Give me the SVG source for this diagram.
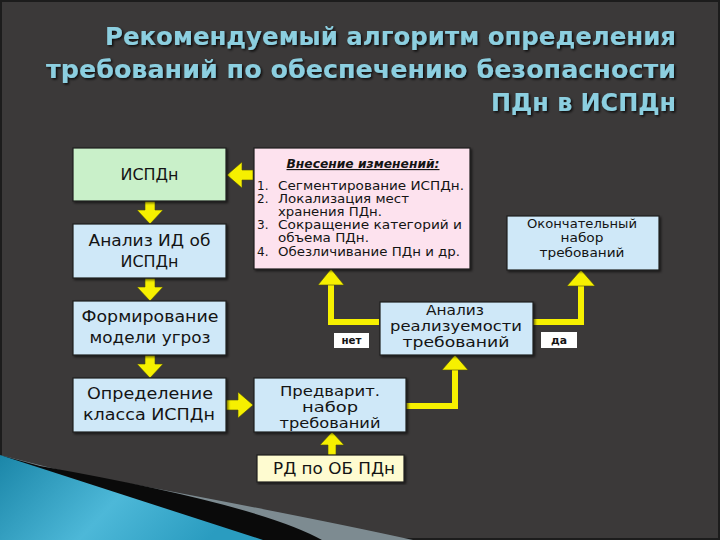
<svg xmlns="http://www.w3.org/2000/svg" width="720" height="540" viewBox="0 0 720 540">
<defs>
<style>
.t{font-family:"DejaVu Sans","Noto Sans",sans-serif;fill:#141414;}
.box{stroke:#1e1e1e;stroke-width:1.2;}
.blue{fill:#cfe8f8;}
.green{fill:#c9f0c9;}
.pink{fill:#fde2ee;}
.yel{fill:#fefbd0;}
.arr{fill:#f6f000;stroke:#4a4a10;stroke-width:0.6;}
.ln{fill:none;stroke:#f6f000;stroke-width:6;}
.title{font-family:"DejaVu Sans","Noto Sans",sans-serif;font-weight:bold;font-size:25px;fill:#8ccfe0;}
.lab{fill:#ffffff;}
</style>
<filter id="sh" x="-5%" y="-20%" width="110%" height="140%">
<feDropShadow dx="1.5" dy="1.5" stdDeviation="0.8" flood-color="#000" flood-opacity="0.8"/>
</filter>
<filter id="bsh" x="-5%" y="-5%" width="115%" height="115%">
<feDropShadow dx="1.5" dy="1.5" stdDeviation="1" flood-color="#000" flood-opacity="0.6"/>
</filter>
<linearGradient id="bg1" x1="0" y1="0" x2="1" y2="0.3">
<stop offset="0" stop-color="#1b86a8"/>
<stop offset="0.55" stop-color="#4db8d8"/>
<stop offset="1" stop-color="#2a9cc0"/>
</linearGradient>
</defs>
<rect x="0" y="0" width="720" height="540" fill="#3b3939"/>
<rect x="1" y="1" width="718" height="538" fill="none" stroke="#1c1c1c" stroke-width="2"/>
<g id="swoosh">
<path d="M0,455 L67,472 Q300,515 413,540 L0,540 Z" fill="#7d8b91"/>
<path d="M0,455 L40,466 Q260,505 322,540 L0,540 Z" fill="#0a0a0a"/>
<polygon points="0,455 263,540 0,540" fill="url(#bg1)"/>
</g>
<g id="title" filter="url(#sh)">
<text class="title" x="676" y="45" text-anchor="end" textLength="571" lengthAdjust="spacingAndGlyphs">Рекомендуемый алгоритм определения</text>
<text class="title" x="676" y="78" text-anchor="end" textLength="630" lengthAdjust="spacingAndGlyphs">требований по обеспечению безопасности</text>
<text class="title" x="676" y="111" text-anchor="end" textLength="185" lengthAdjust="spacingAndGlyphs">ПДн в ИСПДн</text>
</g>
<g id="connectors">
<polygon class="arr" points="253,170 242,170 242,162 227,175 242,188 242,180 253,180"/>
<polygon class="arr" points="145,201 155,201 155,210 163,210 150,224 137,210 145,210"/>
<polygon class="arr" points="145,278 155,278 155,287 163,287 150,301 137,287 145,287"/>
<polygon class="arr" points="145,355 155,355 155,364 163,364 150,378 137,364 145,364"/>
<polygon class="arr" points="226,400 238,400 238,392 253,405 238,418 238,410 226,410"/>
<polygon class="arr" points="328,456 328,445 320,445 332,432 344,445 336,445 336,456"/>
<path class="ln" d="M406,406 H455 V369"/>
<polygon class="arr" points="442,370 455,355 468,370"/>
<path class="ln" d="M379,322 H331 V283"/>
<polygon class="arr" points="318,285 331,269 344,285"/>
<path class="ln" d="M532,322 H581 V284"/>
<polygon class="arr" points="567,286 581,270 595,286"/>
</g>
<g id="ispdn">
<rect class="box green" x="73" y="148" width="153" height="53" filter="url(#bsh)"/>
<text class="t" x="149.5" y="180" font-size="15" text-anchor="middle" textLength="58" lengthAdjust="spacingAndGlyphs">ИСПДн</text>
</g>
<g id="analiz-id">
<rect class="box blue" x="73" y="224" width="153" height="54" filter="url(#bsh)"/>
<text class="t" x="149.5" y="246" font-size="15" text-anchor="middle" textLength="122" lengthAdjust="spacingAndGlyphs">Анализ ИД об</text>
<text class="t" x="149.5" y="267" font-size="15" text-anchor="middle" textLength="58" lengthAdjust="spacingAndGlyphs">ИСПДн</text>
</g>
<g id="model">
<rect class="box blue" x="73" y="301" width="153" height="54" filter="url(#bsh)"/>
<text class="t" x="150" y="322" font-size="15" text-anchor="middle" textLength="137" lengthAdjust="spacingAndGlyphs">Формирование</text>
<text class="t" x="150" y="343" font-size="15" text-anchor="middle" textLength="121" lengthAdjust="spacingAndGlyphs">модели угроз</text>
</g>
<g id="klass">
<rect class="box blue" x="73" y="378" width="153" height="54" filter="url(#bsh)"/>
<text class="t" x="150" y="399" font-size="15" text-anchor="middle" textLength="126" lengthAdjust="spacingAndGlyphs">Определение</text>
<text class="t" x="149" y="420" font-size="15" text-anchor="middle" textLength="132" lengthAdjust="spacingAndGlyphs">класса ИСПДн</text>
</g>
<g id="changes">
<rect class="box pink" x="254" y="148" width="216" height="121" filter="url(#bsh)"/>
<text class="t" x="363" y="168" font-size="11.5" font-weight="bold" font-style="italic" text-decoration="underline" text-anchor="middle" textLength="153" lengthAdjust="spacingAndGlyphs">Внесение изменений:</text>
<text class="t" font-size="12">
<tspan x="257" y="190">1.</tspan>
<tspan x="257" y="203">2.</tspan>
<tspan x="257" y="229">3.</tspan>
<tspan x="257" y="256">4.</tspan>
</text>
<text class="t" x="278" y="190" font-size="12" textLength="186" lengthAdjust="spacingAndGlyphs">Сегментирование ИСПДн.</text>
<text class="t" x="278" y="203" font-size="12" textLength="131" lengthAdjust="spacingAndGlyphs">Локализация мест</text>
<text class="t" x="278" y="216" font-size="12" textLength="104" lengthAdjust="spacingAndGlyphs">хранения ПДн.</text>
<text class="t" x="278" y="229" font-size="12" textLength="184" lengthAdjust="spacingAndGlyphs">Сокращение категорий и</text>
<text class="t" x="278" y="242" font-size="12" textLength="91" lengthAdjust="spacingAndGlyphs">объема ПДн.</text>
<text class="t" x="278" y="256" font-size="12" textLength="182" lengthAdjust="spacingAndGlyphs">Обезличивание ПДн и др.</text>
</g>
<g id="final">
<rect class="box blue" x="507" y="216" width="152" height="54" filter="url(#bsh)"/>
<text class="t" x="582" y="228" font-size="12.5" text-anchor="middle" textLength="110" lengthAdjust="spacingAndGlyphs">Окончательный</text>
<text class="t" x="582" y="242" font-size="12.5" text-anchor="middle" textLength="43" lengthAdjust="spacingAndGlyphs">набор</text>
<text class="t" x="582" y="257" font-size="12.5" text-anchor="middle" textLength="85" lengthAdjust="spacingAndGlyphs">требований</text>
</g>
<g id="realiz">
<rect class="box blue" x="380" y="302" width="153" height="53" filter="url(#bsh)"/>
<text class="t" x="455" y="315" font-size="14.5" text-anchor="middle" textLength="58" lengthAdjust="spacingAndGlyphs">Анализ</text>
<text class="t" x="456" y="331" font-size="14.5" text-anchor="middle" textLength="132" lengthAdjust="spacingAndGlyphs">реализуемости</text>
<text class="t" x="456" y="347" font-size="14.5" text-anchor="middle" textLength="107" lengthAdjust="spacingAndGlyphs">требований</text>
</g>
<g id="prelim">
<rect class="box blue" x="254" y="378" width="152" height="54" filter="url(#bsh)"/>
<text class="t" x="330" y="396" font-size="14.5" text-anchor="middle" textLength="100" lengthAdjust="spacingAndGlyphs">Предварит.</text>
<text class="t" x="330" y="412" font-size="14.5" text-anchor="middle" textLength="56" lengthAdjust="spacingAndGlyphs">набор</text>
<text class="t" x="330" y="428" font-size="14.5" text-anchor="middle" textLength="101" lengthAdjust="spacingAndGlyphs">требований</text>
</g>
<g id="rd">
<rect class="box yel" x="257" y="455" width="147" height="27" filter="url(#bsh)"/>
<text class="t" x="334" y="474" font-size="15" text-anchor="middle" textLength="122" lengthAdjust="spacingAndGlyphs">РД по ОБ ПДн</text>
</g>
<g id="label-net">
<rect class="lab" x="334" y="333" width="35" height="15"/>
<text class="t" x="351.5" y="344" font-size="10" font-weight="bold" text-anchor="middle" textLength="20" lengthAdjust="spacingAndGlyphs">нет</text>
</g>
<g id="label-da">
<rect class="lab" x="541" y="332" width="36" height="16"/>
<text class="t" x="559" y="344" font-size="10" font-weight="bold" text-anchor="middle" textLength="16" lengthAdjust="spacingAndGlyphs">да</text>
</g>
</svg>
